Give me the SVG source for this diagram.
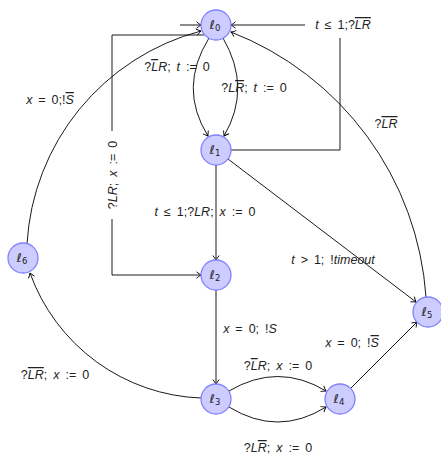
<svg xmlns="http://www.w3.org/2000/svg" width="441" height="455" viewBox="0 0 441 455">
<defs>
<style>
.n{fill:#ccccff;stroke:#8080ff;stroke-width:1.3}
.e{fill:none;stroke:#000;stroke-width:0.9}
.t{font-family:"Liberation Sans","DejaVu Sans",sans-serif;font-size:12.5px;word-spacing:2.5px;fill:#222;text-anchor:middle}
.nl{font-family:"DejaVu Sans","Liberation Sans",sans-serif;font-size:12.5px;fill:#222;text-anchor:middle;font-style:italic}
.i{font-style:italic}
.o{text-decoration:overline}
.s{font-size:8.5px;font-style:normal}
</style>
<marker id="a" viewBox="-6 -4 7 8" refX="0" refY="0" markerWidth="7" markerHeight="8" orient="auto" markerUnits="userSpaceOnUse">
<path d="M-4.5,-3.2 Q-1.5,-0.8 0,0 Q-1.5,0.8 -4.5,3.2" fill="none" stroke="#000" stroke-width="0.9"/>
</marker>
</defs>
<rect width="441" height="455" fill="#fff"/>
<g id="connectors">
<path class="e" marker-end="url(#a)" d="M180,25 H201"/>
<path class="e" marker-end="url(#a)" d="M231,150 H340 V25 H231"/>
<path class="e" marker-end="url(#a)" d="M209,38 Q178,88 208,136"/>
<path class="e" marker-end="url(#a)" d="M223,38 Q252,88 224,136"/>
<path class="e" marker-end="url(#a)" d="M204,35 H112 V275 H201"/>
<path class="e" marker-end="url(#a)" d="M216,165 V260"/>
<path class="e" marker-end="url(#a)" d="M228,159 L416,302"/>
<path class="e" marker-end="url(#a)" d="M216,290 V384"/>
<path class="e" marker-end="url(#a)" d="M229,391 Q278,362 326,391"/>
<path class="e" marker-end="url(#a)" d="M229,407 Q278,437 326,407"/>
<path class="e" marker-end="url(#a)" d="M351,388 L417,322"/>
<path class="e" marker-end="url(#a)" d="M426,297 A307,307 0 0 0 231,32"/>
<path class="e" marker-end="url(#a)" d="M27,244 A234,234 0 0 1 201,31"/>
<path class="e" marker-end="url(#a)" d="M201,398 A189,189 0 0 1 30,273"/>
</g>
<g id="labels">
<rect x="305" y="13" width="74" height="25" fill="#fff"/>
<rect x="103" y="131" width="19" height="88" fill="#fff"/>
<text class="t" x="177" y="71">?<tspan class="i o">L</tspan><tspan class="i">R</tspan>; <tspan class="i">t</tspan> := 0</text>
<text class="t" x="254" y="92">?<tspan class="i">L</tspan><tspan class="i o">R</tspan>; <tspan class="i">t</tspan> := 0</text>
<text class="t" x="343" y="29"><tspan class="i">t</tspan> ≤ 1;?<tspan class="i o">LR</tspan></text>
<text class="t" x="386" y="128">?<tspan class="i o">LR</tspan></text>
<text class="t" x="50" y="104"><tspan class="i">x</tspan> = 0;!<tspan class="i o">S</tspan></text>
<text class="t" transform="translate(117,175) rotate(-90)">?<tspan class="i">LR</tspan>; <tspan class="i">x</tspan> := 0</text>
<text class="t" x="205" y="216"><tspan class="i">t</tspan> ≤ 1;?<tspan class="i">LR</tspan>; <tspan class="i">x</tspan> := 0</text>
<text class="t" x="333" y="264"><tspan class="i">t</tspan> &gt; 1; !<tspan class="i">timeout</tspan></text>
<text class="t" x="250" y="333"><tspan class="i">x</tspan> = 0; !<tspan class="i">S</tspan></text>
<text class="t" x="352" y="347"><tspan class="i">x</tspan> = 0; !<tspan class="i o">S</tspan></text>
<text class="t" x="55" y="379">?<tspan class="i o">LR</tspan>; <tspan class="i">x</tspan> := 0</text>
<text class="t" x="278" y="370">?<tspan class="i o">L</tspan><tspan class="i">R</tspan>; <tspan class="i">x</tspan> := 0</text>
<text class="t" x="278" y="452">?<tspan class="i">L</tspan><tspan class="i o">R</tspan>; <tspan class="i">x</tspan> := 0</text>
</g>
<g id="l0"><circle class="n" cx="216" cy="25" r="15"/><text class="nl" x="215" y="29">ℓ<tspan class="s" dy="2">0</tspan></text></g>
<g id="l1"><circle class="n" cx="216" cy="150" r="15"/><text class="nl" x="215" y="154">ℓ<tspan class="s" dy="2">1</tspan></text></g>
<g id="l2"><circle class="n" cx="216" cy="275" r="15"/><text class="nl" x="215" y="279">ℓ<tspan class="s" dy="2">2</tspan></text></g>
<g id="l3"><circle class="n" cx="216" cy="399" r="15"/><text class="nl" x="215" y="403">ℓ<tspan class="s" dy="2">3</tspan></text></g>
<g id="l4"><circle class="n" cx="340" cy="399" r="15"/><text class="nl" x="339" y="403">ℓ<tspan class="s" dy="2">4</tspan></text></g>
<g id="l5"><circle class="n" cx="428" cy="312" r="15"/><text class="nl" x="427" y="316">ℓ<tspan class="s" dy="2">5</tspan></text></g>
<g id="l6"><circle class="n" cx="23" cy="258" r="15"/><text class="nl" x="22" y="262">ℓ<tspan class="s" dy="2">6</tspan></text></g>
</svg>
